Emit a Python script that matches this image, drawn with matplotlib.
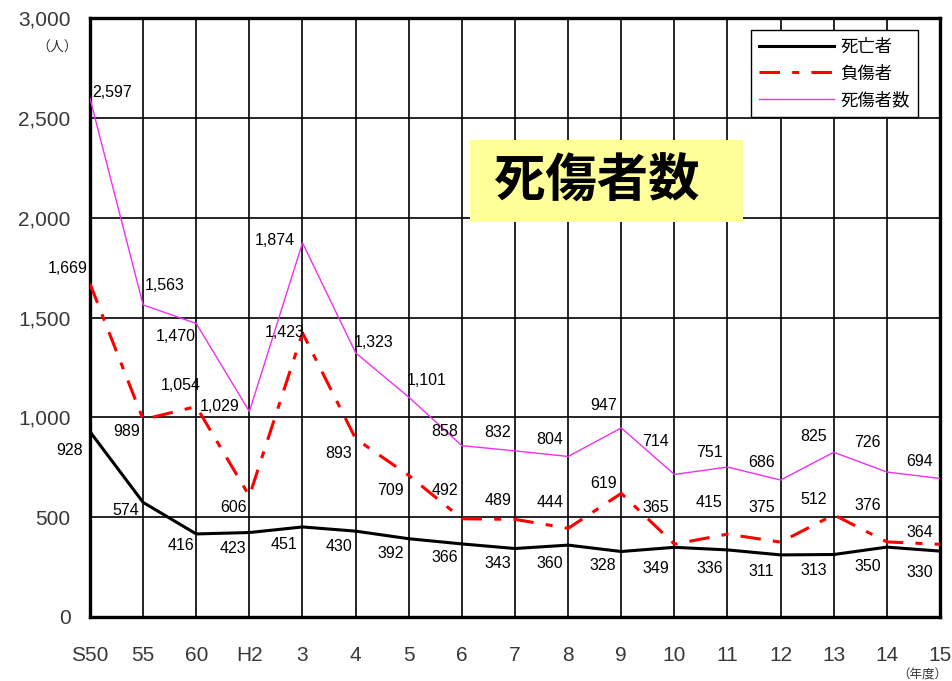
import numpy as np
import matplotlib.pyplot as plt
from matplotlib.patches import Rectangle

plt.rcParams['font.family'] = ['Liberation Sans', 'Noto Sans CJK JP', 'DejaVu Sans']

# ---------------------------------------------------------
# Data
# ---------------------------------------------------------
years = ['S50', '55', '60', 'H2', '3', '4', '5', '6', '7', '8',
         '9', '10', '11', '12', '13', '14', '15']

deaths = [928, 574, 416, 423, 451, 430, 392, 366, 343, 360,
          328, 349, 336, 311, 313, 350, 330]
injured = [1669, 989, 1054, 606, 1423, 893, 709, 492, 489, 444,
           619, 365, 415, 375, 512, 376, 364]
total = [2597, 1563, 1470, 1029, 1874, 1323, 1101, 858, 832, 804,
         947, 714, 751, 686, 825, 726, 694]

# label offsets (pixels from the point)
off_deaths = [(-20, -19), (-17, -8), (-15, -12), (-16, -16), (-18, -18),
              (-17, -15), (-18, -15), (-17, -14), (-17, -15), (-18, -18),
              (-18, -14), (-19, -21), (-18, -19), (-19, -17), (-20, -16),
              (-19, -19), (-20, -21)]
off_injured = [(-22, 15), (-16, -12), (-15, 21), (-16, -11), (-18, 0),
               (-17, -15), (-18, -15), (-17, 28), (-17, 19), (-18, 26),
               (-18, 10), (-19, 37), (-18, 32), (-19, 35), (-20, 15),
               (-19, 36), (-20, 12)]
off_total = [(22, 6), (22, 19), (-20, -13), (-30, 5), (-28, 2),
             (18, 10), (18, 17), (-17, 14), (-17, 18), (-18, 17),
             (-18, 22), (-19, 33), (-18, 15), (-19, 18), (-20, 16),
             (-19, 30), (-20, 17)]

x = np.arange(len(years))

# ---------------------------------------------------------
# Plot
# ---------------------------------------------------------
fig = plt.figure(figsize=(9.53, 6.81), dpi=100)
ax = fig.add_axes([90/953, 64/681, 850/953, 599/681])

ax.plot(x, deaths, color='black', lw=2.2, label='死亡者', zorder=3)
ax.plot(x, injured, color='red', lw=2.2, linestyle=(0, (6.7, 4, 2.3, 4)),
        label='負傷者', zorder=3)
ax.plot(x, total, color='#f030f0', lw=1.0, label='死傷者数', zorder=3)

for vals, offs in [(deaths, off_deaths), (injured, off_injured), (total, off_total)]:
    for i, v in enumerate(vals):
        ax.annotate(f'{v:,}', (x[i], v), xytext=offs[i],
                    textcoords='offset pixels', ha='center', va='center',
                    fontsize=11.5, color='black', zorder=4)

ax.set_xlim(0, len(years) - 1)
ax.set_ylim(0, 3000)
ax.set_xticks(x)
ax.set_xticklabels(years)
ax.set_yticks(np.arange(0, 3001, 500))
ax.set_yticklabels([f'{v:,}' for v in range(0, 3001, 500)])
ax.tick_params(axis='both', length=0, labelsize=15, labelcolor='#383838')
ax.tick_params(axis='y', pad=14)
ax.tick_params(axis='x', pad=21)

ax.grid(True, color='black', lw=1.2)
ax.set_axisbelow(True)
for s in ax.spines.values():
    s.set_linewidth(2.4)
    s.set_color('black')

# title box
ax.add_patch(Rectangle((0.447, 0.659), 0.321, 0.137, transform=ax.transAxes,
                       facecolor='#ffff99', edgecolor='none', zorder=5))
ax.text(0.596, 0.728, '死傷者数', transform=ax.transAxes, ha='center',
        va='center', fontsize=37, fontweight='bold',
        family=['Noto Sans CJK JP'], zorder=6)

leg = ax.legend(loc='upper right', bbox_to_anchor=(0.974, 0.98),
                borderaxespad=0, fancybox=False, framealpha=1,
                edgecolor='black', handlelength=4.3, handletextpad=0.4,
                labelspacing=0.5, borderpad=0.45,
                prop={'family': ['Noto Sans CJK JP'], 'size': 12.5})
leg.get_frame().set_linewidth(1.0)
leg.set_zorder(7)

fig.text(57/953, 1 - 48/681, '（人）', ha='center', va='center',
         fontsize=10, color='#333333', family=['Noto Sans CJK JP'])
fig.text(922/953, 1 - 675/681, '（年度）', ha='center', va='center',
         fontsize=9, color='#333333', family=['Noto Sans CJK JP'])

fig.savefig('out.png', dpi=100, facecolor='white')
